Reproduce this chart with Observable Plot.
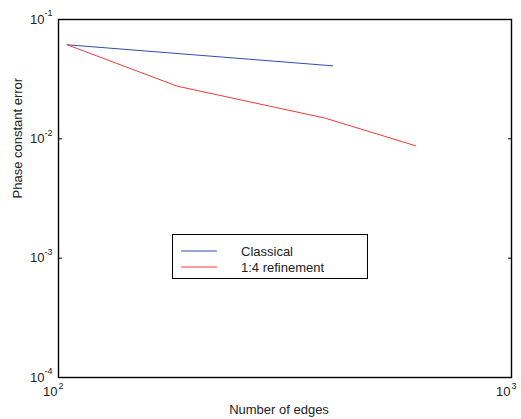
<!DOCTYPE html>
<html>
<head>
<meta charset="utf-8">
<script src="https://cdn.jsdelivr.net/npm/d3@7"></script>
<script src="https://cdn.jsdelivr.net/npm/@observablehq/plot@0.6"></script>
<style>
  html, body { margin: 0; padding: 0; background: #fff; }
  #chart { width: 521px; height: 419px; }
  svg { font-family: "Liberation Sans", Arial, sans-serif; }
</style>
</head>
<body>
<div id="chart"></div>
<script>
// Data
const xTicks = [100, 1000];
const xExps = ["2", "3"];
const yTicks = [1e-1, 1e-2, 1e-3, 1e-4];
const yExps = ["-1", "-2", "-3", "-4"];
const seriesNames = ["Classical", "1:4 refinement"];
const classicalX = [104.5, 403];
const classicalY = [0.0614, 0.0409];
const refineX = [104.5, 183, 388, 614];
const refineY = [0.0614, 0.0276, 0.0149, 0.00875];
const colors = ["#2f4fae", "#f23a3a"];

const classical = classicalX.map((x, i) => ({x, y: classicalY[i], s: seriesNames[0]}));
const refine = refineX.map((x, i) => ({x, y: refineY[i], s: seriesNames[1]}));
const xt = xTicks.map((v, i) => ({v, e: xExps[i]}));
const yt = yTicks.map((v, i) => ({v, e: yExps[i]}));

const font = "Liberation Sans, Arial, sans-serif";

const chart = Plot.plot({
  width: 521,
  height: 419,
  marginLeft: 58,
  marginRight: 10,
  marginTop: 19,
  marginBottom: 42,
  style: {fontFamily: font, fontSize: "13px", color: "#000", background: "#fff"},
  x: {type: "log", domain: [100, 1000]},
  y: {type: "log", domain: [1e-4, 1e-1]},
  marks: [
    Plot.axisY(yTicks, {anchor: "left", tickSize: -4, tickFormat: () => "", label: null, stroke: "#000", strokeWidth: 1}),
    Plot.axisY(yTicks, {anchor: "right", tickSize: -4, tickFormat: () => "", label: null, stroke: "#000", strokeWidth: 1}),
    Plot.axisX(xTicks, {anchor: "bottom", tickSize: 0, tickFormat: () => "", label: null}),
    Plot.line(classical, {x: "x", y: "y", stroke: colors[0], strokeWidth: 1}),
    Plot.line(refine, {x: "x", y: "y", stroke: colors[1], strokeWidth: 1}),
    Plot.frame({stroke: "#000", strokeWidth: 1.4}),
    // y tick labels
    Plot.text(yt, {y: "v", text: () => "10", frameAnchor: "left", textAnchor: "end", dx: -14, dy: 0, fontSize: 13, fill: "#222"}),
    Plot.text(yt, {y: "v", text: "e", frameAnchor: "left", textAnchor: "start", dx: -14, dy: -6, fontSize: 9, fill: "#222"}),
    // x tick labels
    Plot.text(xt, {x: "v", text: () => "10", frameAnchor: "bottom", textAnchor: "end", dx: -1, dy: 18, fontSize: 13, fill: "#222"}),
    Plot.text(xt, {x: "v", text: "e", frameAnchor: "bottom", textAnchor: "start", dx: 0, dy: 11, fontSize: 9, fill: "#222"}),
    // axis titles
    Plot.text(["Number of edges"], {frameAnchor: "bottom", dx: -6, dy: 36, fontSize: 13, fill: "#222"}),
    Plot.text(["Phase constant error"], {frameAnchor: "left", dx: -41, rotate: -90, fontSize: 13, fill: "#222"})
  ]
});

// Legend
const svg = d3.select(chart);
const lg = svg.append("g").attr("font-family", font).attr("font-size", 13).attr("text-anchor", "start");
lg.append("rect").attr("x", 172.5).attr("y", 234.5).attr("width", 195).attr("height", 44)
  .attr("fill", "#fff").attr("stroke", "#000").attr("stroke-width", 1);
seriesNames.forEach((name, i) => {
  const y = 251 + i * 16;
  lg.append("line").attr("x1", 181).attr("x2", 217).attr("y1", y).attr("y2", y)
    .attr("stroke", colors[i]).attr("stroke-width", 1);
  lg.append("text").attr("x", 241).attr("y", y + 4.5).attr("fill", "#222").attr("text-anchor", "start").text(name);
});

document.getElementById("chart").appendChild(chart);
</script>
</body>
</html>
